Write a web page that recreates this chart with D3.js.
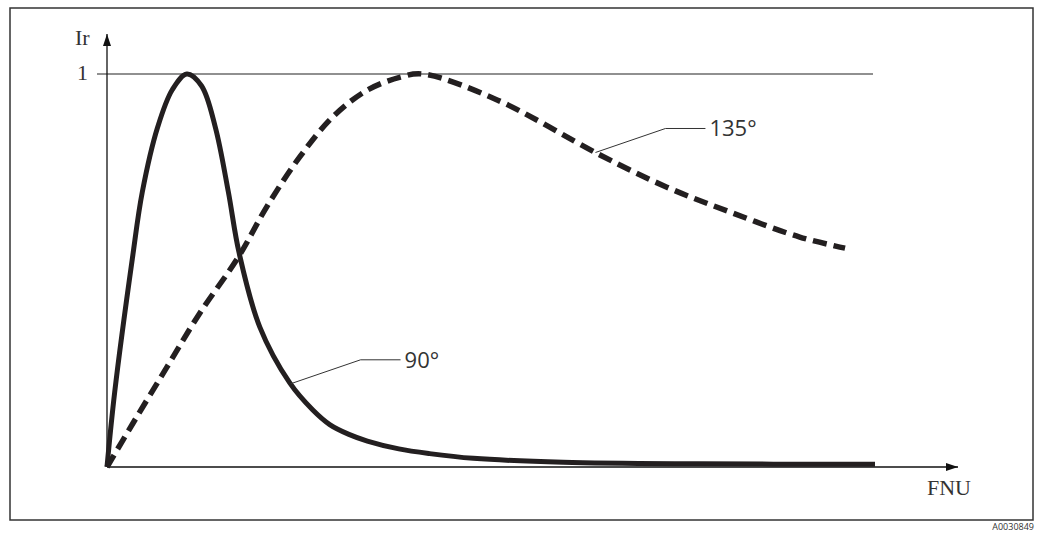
<!DOCTYPE html>
<html>
<head>
<meta charset="utf-8">
<script src="https://cdn.jsdelivr.net/npm/d3@7"></script>
<style>
    body { margin: 0; background: #fff; overflow: hidden; }
    svg { display: block; }
    .serif { font-family: "Liberation Serif", "DejaVu Serif", serif; fill: #333; }
    .sans { font-family: "Open Sans", "Noto Sans", sans-serif; fill: #333; }
</style>
</head>
<body>
<div id="chart"></div>
<script>

// 90 degree curve (solid), x in relative FNU units, y = relative intensity
let fnu90 = [0, 1, 3.3, 4.6, 6.6, 8.5, 10.4, 12.3, 14.1, 15.8, 17.2, 19.9, 23.8, 26.8, 29, 31.5, 33.9, 38, 42, 47.7, 59.4, 77, 100];
let ir90 = [0, 0.19, 0.53, 0.70, 0.865, 0.96, 1.0, 0.97, 0.865, 0.70, 0.545, 0.356, 0.214, 0.145, 0.108, 0.083, 0.066, 0.046, 0.034, 0.022, 0.012, 0.008, 0.007];

// 135 degree curve (dashed)
let fnu135 = [0, 3.4, 7.8, 12.1, 17.1, 20.8, 25.1, 29.4, 33.9, 38.2, 41.1, 50.8, 64.2, 72.9, 81.5, 90.2, 96.1];
let ir135 = [0, 0.112, 0.254, 0.392, 0.534, 0.662, 0.789, 0.891, 0.959, 0.992, 1.0, 0.934, 0.794, 0.712, 0.646, 0.585, 0.557];

let yTicks = [1];

// leader label anchors: x on curve, label text
let labels = [
    {x: 23.9, text: "90°", curve: "c90"},
    {x: 63.6, text: "135°", curve: "c135"}
];

let width = 1038, height = 533;

let svg = d3.select("#chart")
    .append("svg")
    .attr("width", width)
    .attr("height", height);

// frame
svg.append("rect")
    .attr("x", 10).attr("y", 8)
    .attr("width", 1023).attr("height", 512)
    .attr("fill", "none")
    .attr("stroke", "#333")
    .attr("stroke-width", 1.5);

let xScale = d3.scaleLinear().domain([0, 100]).range([107, 875]);
let yScale = d3.scaleLinear().domain([0, 1]).range([467, 74]);

let defs = svg.append("defs");
defs.append("marker")
    .attr("id", "arrow")
    .attr("viewBox", "0 0 12 8")
    .attr("refX", 12).attr("refY", 4)
    .attr("markerWidth", 12).attr("markerHeight", 8)
    .attr("markerUnits", "userSpaceOnUse")
    .attr("orient", "auto")
    .append("path")
    .attr("d", "M0,0 L12,4 L0,8 Z")
    .attr("fill", "#111");

// y tick line at 1
svg.selectAll(".ytick")
    .data(yTicks)
    .enter()
    .append("line")
    .attr("x1", 97).attr("x2", xScale(100) - 2)
    .attr("y1", d => yScale(d)).attr("y2", d => yScale(d))
    .attr("stroke", "#222")
    .attr("stroke-width", 1.2);

svg.selectAll(".ylab")
    .data(yTicks)
    .enter()
    .append("text")
    .attr("class", "serif")
    .attr("x", 88)
    .attr("y", d => yScale(d) + 6)
    .attr("text-anchor", "end")
    .attr("font-size", 22)
    .text(d => d);

// axes with arrows
svg.append("line")
    .attr("x1", xScale(0)).attr("y1", yScale(0))
    .attr("x2", xScale(0)).attr("y2", 34)
    .attr("stroke", "#111").attr("stroke-width", 1.3)
    .attr("marker-end", "url(#arrow)");

svg.append("line")
    .attr("x1", xScale(0)).attr("y1", yScale(0))
    .attr("x2", 958).attr("y2", yScale(0))
    .attr("stroke", "#111").attr("stroke-width", 1.3)
    .attr("marker-end", "url(#arrow)");

svg.append("text")
    .attr("class", "serif")
    .attr("x", 75).attr("y", 45)
    .attr("font-size", 22)
    .text("Ir");

svg.append("text")
    .attr("class", "serif")
    .attr("x", 927).attr("y", 495)
    .attr("font-size", 22)
    .text("FNU");

let line = d3.line()
    .x(d => xScale(d[0]))
    .y(d => yScale(d[1]))
    .curve(d3.curveCatmullRom.alpha(0.5));

let c90 = fnu90.map((v, i) => [v, ir90[i]]);
let c135 = fnu135.map((v, i) => [v, ir135[i]]);

svg.append("path")
    .attr("d", line(c135))
    .attr("fill", "none")
    .attr("stroke", "#231f20")
    .attr("stroke-width", 5.5)
    .attr("stroke-dasharray", "14,7");

svg.append("path")
    .attr("d", line(c90))
    .attr("fill", "none")
    .attr("stroke", "#231f20")
    .attr("stroke-width", 5)
    .attr("stroke-linejoin", "round");

// leader lines
let curves = {c90: c90, c135: c135};
labels.forEach(l => {
    let pts = curves[l.curve];
    let k = d3.bisector(d => d[0]).left(pts, l.x);
    let a = pts[k - 1], b = pts[k];
    let t = (l.x - a[0]) / (b[0] - a[0]);
    let yv = a[1] + t * (b[1] - a[1]);
    let px = xScale(l.x), py = yScale(yv);
    let g = svg.append("g");
    g.append("polyline")
        .attr("points", [[px, py], [px + 70, py - 24], [px + 110, py - 24]].map(p => p.join(",")).join(" "))
        .attr("fill", "none")
        .attr("stroke", "#333")
        .attr("stroke-width", 1);
    g.append("text")
        .attr("class", "sans")
        .attr("x", px + 114)
        .attr("y", py - 16)
        .attr("font-size", 22)
        .text(l.text);
});

svg.append("text")
    .attr("class", "sans")
    .attr("x", 1034).attr("y", 530)
    .attr("text-anchor", "end")
    .attr("font-size", 9)
    .attr("fill", "#555")
    .text("A0030849");

</script>
</body>
</html>
